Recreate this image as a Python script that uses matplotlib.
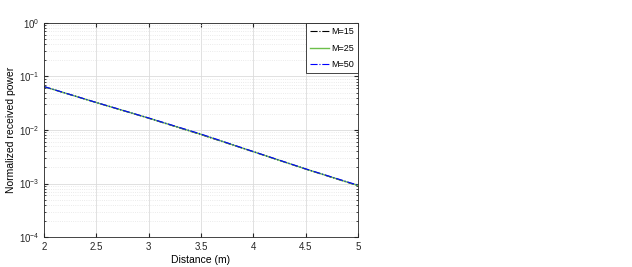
import matplotlib
matplotlib.use("Agg")
import matplotlib.pyplot as plt
from matplotlib.ticker import LogLocator, NullFormatter

# distance samples (m) and normalized received power
distance = [2.0, 2.5, 3.0, 3.5, 4.0, 4.5, 5.0]
power_m15 = [0.0645, 0.0325, 0.0166, 0.0082, 0.00392, 0.00186, 0.00091]
power_m25 = [0.0647, 0.0326, 0.0167, 0.0083, 0.00394, 0.00187, 0.00092]
power_m50 = [0.0649, 0.0327, 0.0168, 0.0084, 0.00396, 0.00188, 0.00093]

plt.rcParams["font.family"] = ["Liberation Sans", "DejaVu Sans"]
plt.rcParams["font.size"] = 7

fig = plt.figure(figsize=(6.32, 2.67), dpi=100)
ax = fig.add_axes([0.0696, 0.112, 0.497, 0.802])

ax.semilogy(distance, power_m15, color="black", ls="-.", lw=0.8, label="M=15")
ax.semilogy(distance, power_m25, color="#6cbf4a", ls="-", lw=1.0, label="M=25")
ax.semilogy(distance, power_m50, color="blue", ls="-.", lw=0.8, label="M=50")

ax.set_xlim(2, 5)
ax.set_ylim(1e-4, 1)
ax.set_xticks([2, 2.5, 3, 3.5, 4, 4.5, 5])
ax.set_xticklabels(["2", "2.5", "3", "3.5", "4", "4.5", "5"])
ax.yaxis.set_major_locator(LogLocator(base=10, numticks=10))
ax.yaxis.set_minor_locator(LogLocator(base=10, subs=range(2, 10), numticks=20))
ax.yaxis.set_minor_formatter(NullFormatter())

ax.grid(True, which="major", color="#dcdcdc", lw=0.6)
ax.grid(True, which="minor", axis="y", color="#e4e4e4", ls=":", lw=0.6)
ax.set_axisbelow(True)

ax.tick_params(which="both", direction="in", top=True, right=True,
               colors="#262626", labelsize=7, length=3)
ax.tick_params(which="minor", length=1.5)
for s in ax.spines.values():
    s.set_color("#262626")
    s.set_linewidth(0.6)

ax.set_xlabel("Distance (m)", fontsize=7.5, labelpad=2)
ax.set_ylabel("Normalized received power", fontsize=7.5, labelpad=2)

leg = ax.legend(loc="upper right", fontsize=6.5, fancybox=False,
                edgecolor="#262626", framealpha=1, handlelength=2.2,
                handletextpad=0.2, borderaxespad=0.0, labelspacing=0.85,
                borderpad=0.45)
leg.get_frame().set_linewidth(0.6)

fig.savefig("out.png", dpi=100)
